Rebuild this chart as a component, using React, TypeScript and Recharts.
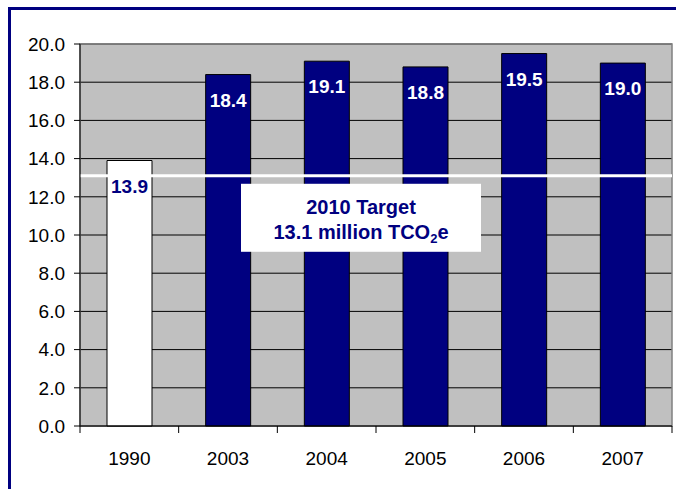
import React from 'react';
import {
  BarChart,
  Bar,
  XAxis,
  YAxis,
  CartesianGrid,
  ReferenceLine,
  ReferenceArea,
  LabelList,
  Cell,
} from 'recharts';

// data
const years = ['1990', '2003', '2004', '2005', '2006', '2007'];
const emissions = [13.9, 18.4, 19.1, 18.8, 19.5, 19.0];
const yTicks = [0, 2, 4, 6, 8, 10, 12, 14, 16, 18, 20];
const target = 13.1;
const targetLines = ['2010 Target', '13.1 million TCO'];

const data = years.map((year, i) => ({ year, value: emissions[i] }));

const NAVY = '#000080';
const FONT = '"Liberation Sans", Arial, sans-serif';

const W = 676;
const H = 489;
const M = { top: 44, right: 4, bottom: 0, left: 0 };
const Y_AXIS_W = 80;
const X_AXIS_H = 63;
const plotW = W - M.left - M.right - Y_AXIS_W;
const band = plotW / years.length;

function XTick(props: any) {
  const { x, y, payload, index } = props;
  const left = x - band / 2;
  return (
    <g>
      <line x1={left} y1={y} x2={left} y2={y + 7} stroke="#000" />
      {index === years.length - 1 && (
        <line x1={x + band / 2} y1={y} x2={x + band / 2} y2={y + 7} stroke="#000" />
      )}
      <text x={x} y={y + 39} textAnchor="middle" fontSize={19} fontFamily={FONT} fill="#000">
        {payload.value}
      </text>
    </g>
  );
}

function BarValue(props: any) {
  const { x, y, width, value, index } = props;
  return (
    <text
      x={x + width / 2}
      y={y + 32}
      textAnchor="middle"
      fontSize={19}
      fontWeight="bold"
      fontFamily={FONT}
      fill={index === 0 ? NAVY : '#fff'}
    >
      {Number(value).toFixed(1)}
    </text>
  );
}

function TargetBox(props: any) {
  const { viewBox } = props;
  const bx = viewBox.x + 161;
  const by = viewBox.y + 8;
  const cx = bx + 120;
  return (
    <g>
      <rect x={bx} y={by} width={240} height={68} fill="#fff" />
      <text x={cx} y={by + 30} textAnchor="middle" fontSize={20} fontWeight="bold" fontFamily={FONT} fill={NAVY}>
        {targetLines[0]}
      </text>
      <text x={cx} y={by + 55} textAnchor="middle" fontSize={20} fontWeight="bold" fontFamily={FONT} fill={NAVY}>
        {targetLines[1]}
        <tspan fontSize={13} dy={4}>2</tspan>
        <tspan dy={-4}>e</tspan>
      </text>
    </g>
  );
}

export default function App() {
  return (
    <div style={{ position: 'fixed', left: 0, top: 0, width: W, height: H, overflow: 'hidden', background: '#fff' }}>
      <div
        style={{
          position: 'absolute',
          left: 8,
          top: 7,
          width: 700,
          height: 520,
          border: `3px solid ${NAVY}`,
          boxSizing: 'border-box',
        }}
      />
      <div style={{ position: 'absolute', left: 0, top: 0 }}>
        <BarChart width={W} height={H} data={data} margin={M} barCategoryGap={0}>
          <CartesianGrid vertical={false} fill="#C0C0C0" fillOpacity={1} stroke="#000" />
          <ReferenceArea y1={0} y2={20} fill="none" fillOpacity={0} stroke="#808080" strokeWidth={1.5} />
          <XAxis
            dataKey="year"
            height={X_AXIS_H}
            axisLine={{ stroke: '#000' }}
            tickLine={false}
            tickSize={0}
            tickMargin={0}
            tick={<XTick />}
            interval={0}
          />
          <YAxis
            width={Y_AXIS_W}
            domain={[0, 20]}
            ticks={yTicks}
            interval={0}
            axisLine={{ stroke: '#000' }}
            tickLine={{ stroke: '#000' }}
            tickSize={6}
            tickMargin={9}
            tickFormatter={(v: number) => v.toFixed(1)}
            tick={{ fill: '#000', fontSize: 19, fontFamily: FONT }}
          />
          <Bar dataKey="value" barSize={45} stroke="#000" strokeWidth={1} isAnimationActive={false}>
            {data.map((d, i) => (
              <Cell key={d.year} fill={i === 0 ? '#fff' : NAVY} />
            ))}
            <LabelList dataKey="value" content={<BarValue />} />
          </Bar>
          <ReferenceLine y={target} stroke="#fff" strokeWidth={3} label={<TargetBox />} />
        </BarChart>
      </div>
    </div>
  );
}
